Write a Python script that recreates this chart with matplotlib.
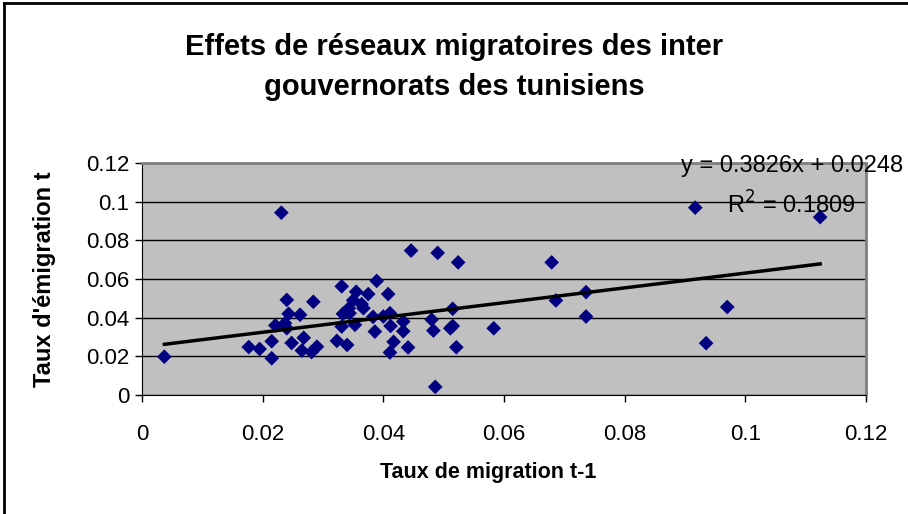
import matplotlib
matplotlib.use("Agg")
import matplotlib.pyplot as plt
from matplotlib.lines import Line2D
import numpy as np

plt.rcParams["font.family"] = ["Liberation Sans", "DejaVu Sans"]

# taux de migration t-1 (x) et taux d'emigration t (y)
migration_t1 = [
    0.0037, 0.0177, 0.0195, 0.0215, 0.0215, 0.0221, 0.0231, 0.0237, 0.0240, 0.0243,
    0.0240, 0.0248, 0.0262, 0.0268, 0.0265, 0.0284, 0.0281, 0.0290, 0.0331, 0.0323,
    0.0340, 0.0331, 0.0333, 0.0344, 0.0343, 0.0350, 0.0355, 0.0353, 0.0364, 0.0367,
    0.0375, 0.0389, 0.0386, 0.0383, 0.0408, 0.0411, 0.0400, 0.0412, 0.0417, 0.0411,
    0.0433, 0.0433, 0.0441, 0.0446, 0.0490, 0.0524, 0.0480, 0.0483, 0.0486, 0.0515,
    0.0511, 0.0515, 0.0521, 0.0583, 0.0679, 0.0686, 0.0736, 0.0736, 0.0917, 0.0935,
    0.0970, 0.1124,
]
emigration_t = [
    0.0198, 0.0248, 0.0238, 0.0278, 0.0190, 0.0360, 0.0943, 0.0371, 0.0492, 0.0420,
    0.0345, 0.0269, 0.0415, 0.0296, 0.0230, 0.0482, 0.0222, 0.0250, 0.0562, 0.0280,
    0.0259, 0.0354, 0.0420, 0.0423, 0.0449, 0.0490, 0.0534, 0.0363, 0.0470, 0.0449,
    0.0522, 0.0590, 0.0328, 0.0404, 0.0522, 0.0423, 0.0406, 0.0357, 0.0275, 0.0220,
    0.0380, 0.0330, 0.0246, 0.0747, 0.0735, 0.0686, 0.0390, 0.0333, 0.0042, 0.0446,
    0.0345, 0.0357, 0.0247, 0.0345, 0.0686, 0.0489, 0.0532, 0.0406, 0.0969, 0.0268,
    0.0455, 0.0920,
]

# droite de tendance affichee
slope, intercept, r2 = 0.3826, 0.0248, 0.1809

x_ticks = [0, 0.02, 0.04, 0.06, 0.08, 0.1, 0.12]
tick_labels = ["0", "0.02", "0.04", "0.06", "0.08", "0.1", "0.12"]

fig = plt.figure(figsize=(9.08, 5.14), dpi=100)
ax = fig.add_axes([142 / 908, 1 - 395 / 514, 724 / 908, 232 / 514])

ax.set_facecolor("#C0C0C0")
ax.set_xlim(0, 0.12)
ax.set_ylim(0, 0.12)
ax.set_xticks(x_ticks)
ax.set_xticklabels(tick_labels)
ax.set_yticks(x_ticks)
ax.set_yticklabels(tick_labels)
ax.yaxis.grid(True, color="black", lw=1.0)
ax.set_axisbelow(True)
ax.tick_params(axis="both", direction="out", length=5, width=1, labelsize=16,
               colors="black")
ax.tick_params(axis="x", pad=16)
ax.tick_params(axis="y", pad=4)
for side in ("top", "right"):
    ax.spines[side].set_color("#808080")
    ax.spines[side].set_linewidth(2)
ax.spines["left"].set_color("black")
ax.spines["bottom"].set_color("black")

ax.scatter(migration_t1, emigration_t, marker="D", s=56, color="#000080",
           edgecolors="none", zorder=3)

xs = np.array([min(migration_t1), max(migration_t1)])
ax.plot(xs, slope * xs + intercept, color="black", lw=2.5, zorder=4)

ax.text(1.051, 0.985, f"y = {slope}x + {intercept}", transform=ax.transAxes,
        ha="right", va="center", fontsize=17, clip_on=False)
ax.text(0.985, 0.82, f"R$^2$ = {r2}", transform=ax.transAxes,
        ha="right", va="center", fontsize=17, clip_on=False)

ax.set_xlabel("Taux de migration t-1", fontsize=15.5, fontweight="bold")
ax.xaxis.set_label_coords(0.478, -0.332)
ax.xaxis.label.set_va("center")
ax.set_ylabel("Taux d'émigration t", fontsize=17, fontweight="bold")
ax.yaxis.set_label_coords(-0.134, 0.5)
ax.yaxis.label.set_va("center")

fig.text(0.5, 1 - 47 / 514, "Effets de réseaux migratoires des inter",
         ha="center", va="center", fontsize=21, fontweight="bold")
fig.text(0.5, 1 - 87 / 514, "gouvernorats des tunisiens",
         ha="center", va="center", fontsize=21, fontweight="bold")

# cadre du graphique (seuls les bords haut et gauche sont visibles)
fig.add_artist(Line2D([4 / 908, 4 / 908], [0, 1 - 3 / 514], color="black", lw=2))
fig.add_artist(Line2D([4 / 908, 1], [1 - 3 / 514, 1 - 3 / 514], color="black", lw=2))

fig.savefig("out.png", dpi=100)
